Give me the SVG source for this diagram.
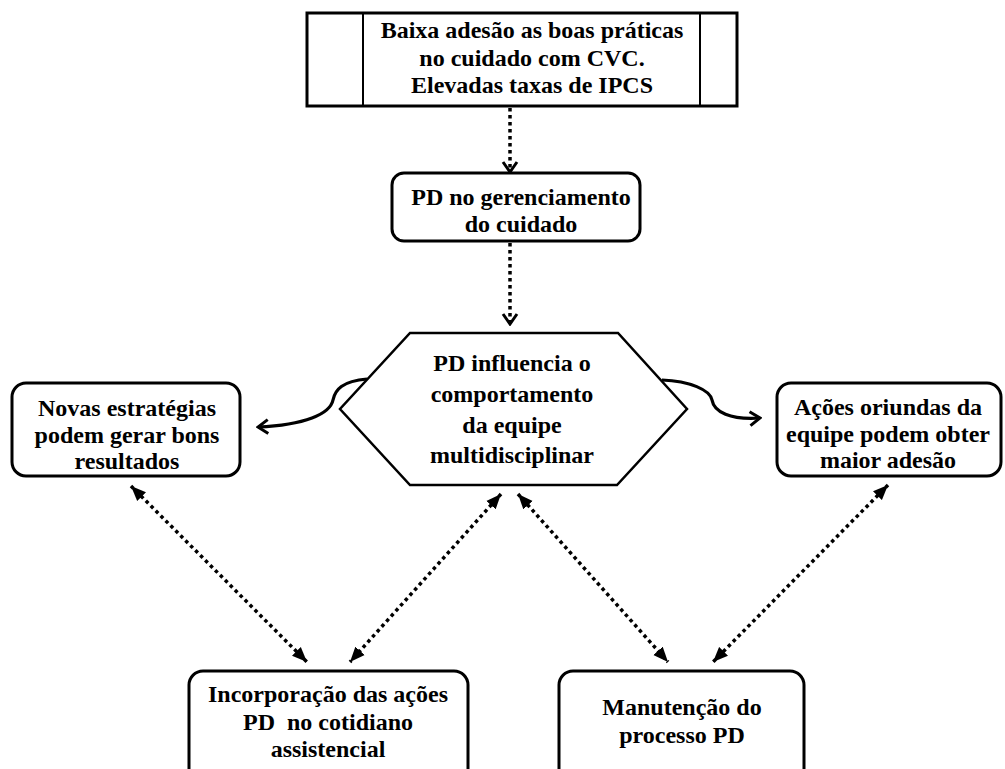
<svg xmlns="http://www.w3.org/2000/svg" width="1005" height="769" viewBox="0 0 1005 769">
<defs>
<style>
.box{fill:#fff;stroke:#000;stroke-width:3}
.hex{fill:#fff;stroke:#000;stroke-width:2.5}
.t{font-family:"Liberation Serif","Times New Roman",serif;font-weight:bold;font-size:24px;fill:#000;text-anchor:middle}
.dot{fill:none;stroke:#000;stroke-width:3.5;stroke-dasharray:3.5 3.5}
.curve{fill:none;stroke:#000;stroke-width:3.2}
</style>
<marker id="tri" viewBox="0 0 12 10" refX="12" refY="5" markerWidth="15" markerHeight="13" markerUnits="userSpaceOnUse" orient="auto-start-reverse">
<path d="M0,0 L12,5 L0,10 z" fill="#000"/>
</marker>
<marker id="vee" viewBox="0 0 14 18" refX="12" refY="9" markerWidth="14" markerHeight="18" markerUnits="userSpaceOnUse" orient="auto">
<path d="M2,2 L12,9 L2,16" fill="none" stroke="#000" stroke-width="3"/>
</marker>
</defs>
<rect width="1005" height="769" fill="#fff"/>
<g id="connectors">
<line class="dot" x1="510" y1="108" x2="510" y2="172" marker-end="url(#vee)"/>
<line class="dot" x1="510" y1="243" x2="510" y2="324" marker-end="url(#vee)"/>
<path class="curve" d="M367,379 C342,381 335,390 333,400 C330,414 305,425 258,427" marker-end="url(#vee)"/>
<path class="curve" d="M662,380 C690,381 710,390 712,400 C714,412 730,420 760,418" marker-end="url(#vee)"/>
<line class="dot" x1="131" y1="486" x2="307" y2="662" marker-start="url(#tri)" marker-end="url(#tri)"/>
<line class="dot" x1="501" y1="494" x2="350" y2="662" marker-start="url(#tri)" marker-end="url(#tri)"/>
<line class="dot" x1="518" y1="494" x2="668" y2="662" marker-start="url(#tri)" marker-end="url(#tri)"/>
<line class="dot" x1="888" y1="485" x2="713" y2="662" marker-start="url(#tri)" marker-end="url(#tri)"/>
</g>
<g id="node-top">
<rect class="box" x="307" y="13" width="430" height="93"/>
<line x1="363" y1="13" x2="363" y2="106" stroke="#000" stroke-width="2"/>
<line x1="700" y1="13" x2="700" y2="106" stroke="#000" stroke-width="2"/>
<text class="t" x="532" y="38">Baixa adesão as boas práticas</text>
<text class="t" x="532" y="66">no cuidado com CVC.</text>
<text class="t" x="532" y="93">Elevadas taxas de IPCS</text>
</g>
<g id="node-pd">
<rect class="box" x="392" y="173" width="248" height="68" rx="12"/>
<text class="t" x="521" y="205">PD no gerenciamento</text>
<text class="t" x="521" y="232">do cuidado</text>
</g>
<g id="node-hex">
<polygon class="hex" points="410,333 618,333 687,409 617,485 410,485 340,409"/>
<text class="t" x="512" y="371">PD influencia o</text>
<text class="t" x="512" y="402">comportamento</text>
<text class="t" x="512" y="433">da equipe</text>
<text class="t" x="512" y="463">multidisciplinar</text>
</g>
<g id="node-novas">
<rect class="box" x="12" y="383" width="228" height="93" rx="14"/>
<text class="t" x="127" y="416">Novas estratégias</text>
<text class="t" x="127" y="443">podem gerar bons</text>
<text class="t" x="127" y="469">resultados</text>
</g>
<g id="node-acoes">
<rect class="box" x="777" y="383" width="224" height="93" rx="14"/>
<text class="t" x="888" y="415">Ações oriundas da</text>
<text class="t" x="888" y="442">equipe podem obter</text>
<text class="t" x="888" y="468">maior adesão</text>
</g>
<g id="node-incorporacao">
<rect class="box" x="189" y="671" width="279" height="115" rx="14"/>
<text class="t" x="328" y="702">Incorporação das ações</text>
<text class="t" x="328" y="730" style="white-space:pre">PD  no cotidiano</text>
<text class="t" x="328" y="757">assistencial</text>
</g>
<g id="node-manutencao">
<rect class="box" x="559" y="671" width="245" height="115" rx="14"/>
<text class="t" x="682" y="715">Manutenção do</text>
<text class="t" x="682" y="743">processo PD</text>
</g>
</svg>
